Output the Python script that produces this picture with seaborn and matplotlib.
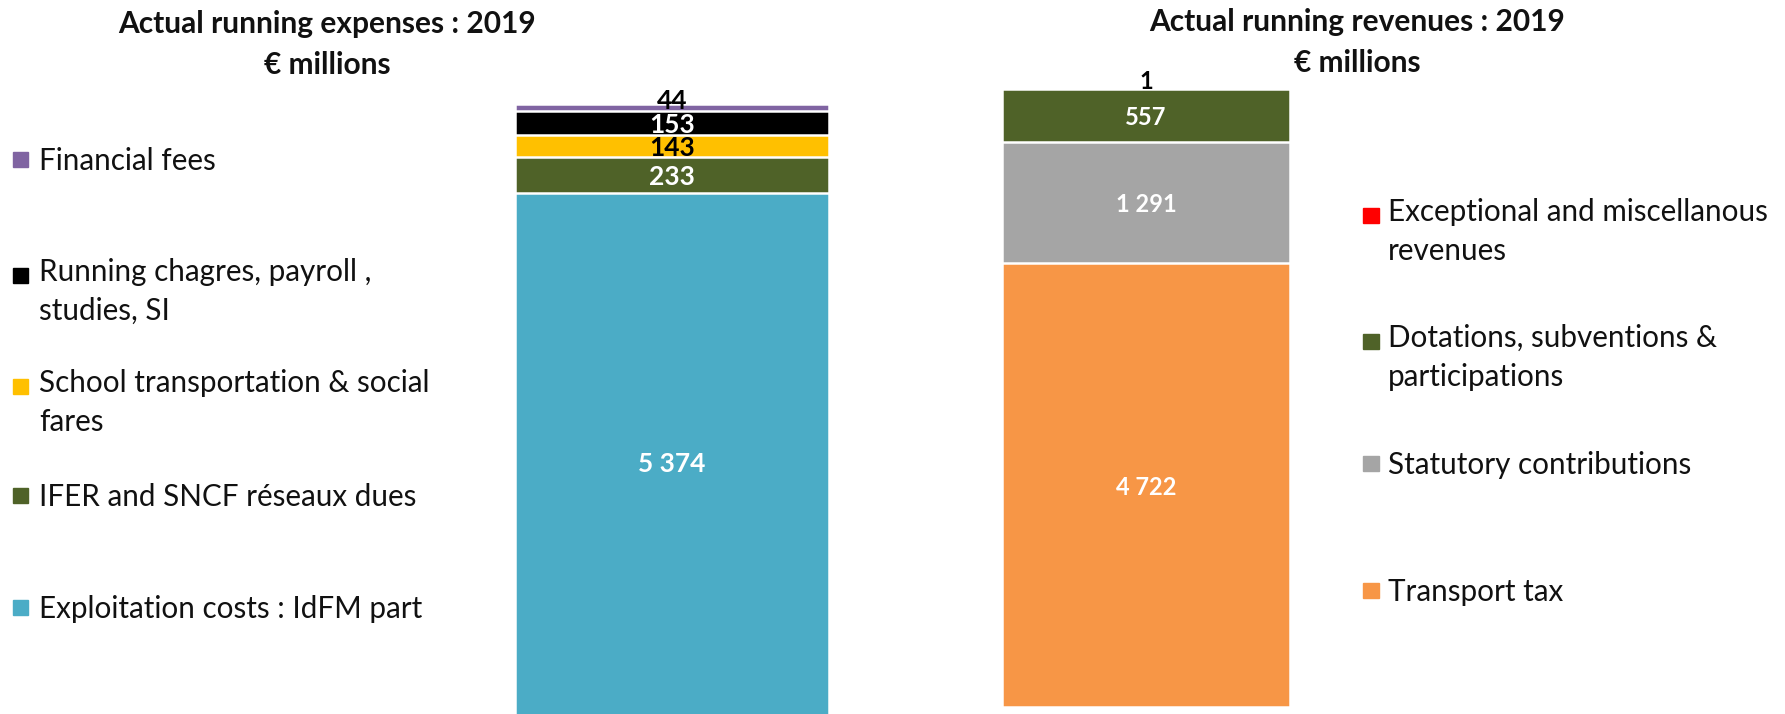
import matplotlib
matplotlib.use("Agg")
import matplotlib.pyplot as plt
import seaborn as sns
import numpy as np
from matplotlib.patches import Rectangle
from matplotlib.font_manager import FontProperties

# ---------------- data ----------------
year = "2019"
exp_title = "Actual running expenses : 2019\n€ millions"
rev_title = "Actual running revenues : 2019\n€ millions"

# stacked bottom -> top
exp_categories = ["Exploitation costs : IdFM part",
                  "IFER and SNCF réseaux dues",
                  "School transportation & social\nfares",
                  "Running chagres, payroll ,\nstudies, SI",
                  "Financial fees"]
exp_values = [5374, 233, 143, 153, 44]
exp_labels = ["5 374", "233", "143", "153", "44"]

rev_categories = ["Transport tax",
                  "Statutory contributions",
                  "Dotations, subventions &\nparticipations",
                  "Exceptional and miscellanous\nrevenues"]
rev_values = [4722, 1291, 557, 1]
rev_labels = ["4 722", "1 291", "557", "1"]

# ---------------- styles ----------------
exp_colors = ["#4BACC6", "#4F6228", "#FFC000", "#000000", "#8064A2"]
exp_label_colors = ["white", "white", "black", "white", "black"]
exp_label_dy = [0, 0, 0, 0, 6]          # points
rev_colors = ["#F79646", "#A5A5A5", "#4F6228", "#FF0000"]
rev_label_colors = ["white", "white", "white", "black"]
rev_label_dy = [0, 0, 0, 7]

W, H = 1785, 714
FAMILY = ["Lato", "DejaVu Sans"]
sns.set_theme(style="white")
plt.rcParams["font.family"] = FAMILY

fig = plt.figure(figsize=(W / 100, H / 100), dpi=100)
renderer = fig.canvas.get_renderer()


def panel(x0, x1, top_px, scale, ymin, values, labels, colors, lcolors,
          ldy, lsize):
    vals = np.array(values, dtype=float)
    cum = np.cumsum(vals)
    total = cum[-1]
    bottom_px = top_px + (total - ymin) * scale      # plot-area bottom
    yhi = total + top_px / scale
    ax = fig.add_axes([x0 / W, (H - bottom_px) / H, (x1 - x0) / W,
                       bottom_px / H])
    for i in reversed(range(len(vals))):
        sns.barplot(x=[year], y=[cum[i]], color=colors[i], saturation=1,
                    width=1.0, edgecolor="white", linewidth=1.8,
                    errorbar=None, ax=ax)
    ax.set_xlim(-0.5, 0.5)
    ax.set_ylim(ymin, yhi)
    ax.axis("off")
    for i in range(len(vals)):
        lo = max(cum[i] - vals[i], ymin)
        yc = (lo + cum[i]) / 2
        ax.annotate(labels[i], (0, yc), xytext=(0, ldy[i]),
                    textcoords="offset points", ha="center",
                    va="center_baseline", fontsize=lsize,
                    fontweight="bold", color=lcolors[i],
                    annotation_clip=False)
    return ax


panel(515, 829, 104, 0.1551, 1900, exp_values, exp_labels, exp_colors,
      exp_label_colors, exp_label_dy, 19)
panel(1002, 1290, 89.3, 0.0940, 0, rev_values, rev_labels, rev_colors,
      rev_label_colors, rev_label_dy, 17)

# overlay in pixel coordinates for titles and legends
lax = fig.add_axes([0, 0, 1, 1], zorder=-1)
lax.set_xlim(0, W)
lax.set_ylim(H, 0)
lax.axis("off")


def place(x, yc, s, size, weight, sp, ha="left"):
    """Place text so that the first line's cap centre sits near yc (px)
    and successive lines are about sp px apart."""
    fp = FontProperties(family=FAMILY, size=size, weight=weight)
    _, h_lp, d_lp = renderer.get_text_width_height_descent("lp", fp, ismath=False)
    _, h_cap, d_cap = renderer.get_text_width_height_descent("H", fp, ismath=False)
    asc = h_lp - d_lp
    cap = h_cap - d_cap
    n = s.count("\n") + 1
    y = yc + cap / 2 + (n - 1) * sp
    lax.text(x, y, s, ha=ha, va="baseline", multialignment=ha,
             fontproperties=fp, linespacing=sp / asc, color="#111111")


place(327, 27, exp_title, 21.5, "bold", 36, ha="center")
place(1357, 25, rev_title, 21.5, "bold", 36, ha="center")

exp_leg_y = [607, 495, 386, 275, 159]
for cat, col, y in zip(exp_categories, exp_colors, exp_leg_y):
    lax.add_patch(Rectangle((13, y - 7.5), 15, 15, color=col))
    place(39, y, cat, 21.3, "normal", 34)

rev_leg_y = [590, 463, 341, 215]
for cat, col, y in zip(rev_categories, rev_colors, rev_leg_y):
    lax.add_patch(Rectangle((1363, y - 7.5), 16, 15, color=col))
    place(1388, y, cat, 21.3, "normal", 34)

fig.savefig("out.png", dpi=100, facecolor="white")
